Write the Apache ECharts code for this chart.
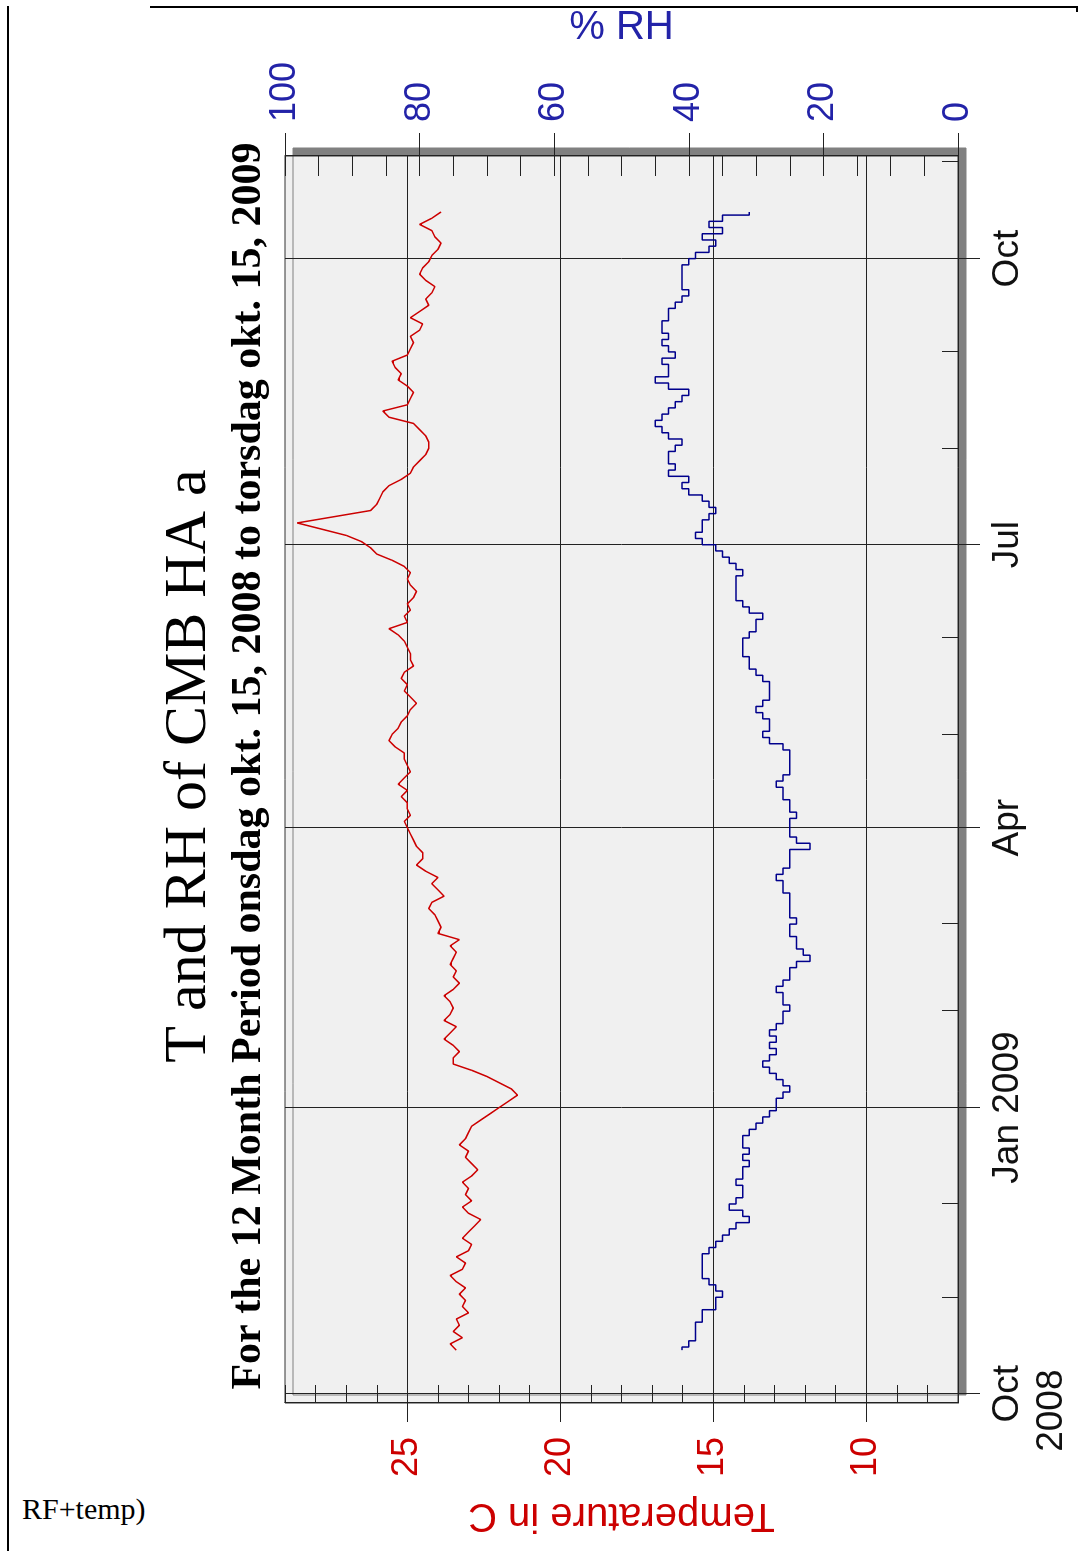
<!DOCTYPE html>
<html>
<head>
<meta charset="utf-8">
<title>T and RH of CMB HA a</title>
<script src="https://cdn.jsdelivr.net/npm/echarts@6/dist/echarts.min.js"></script>
<style>
  html, body { margin: 0; padding: 0; background: #fff; }
  body { width: 1080px; height: 1551px; position: relative; overflow: hidden; }
  /* chart is drawn landscape and turned a quarter to the left */
  #chart { position: absolute; left: 0; top: 0; width: 1551px; height: 1080px;
           transform-origin: 0 0; transform: translate(0, 1551px) rotate(-90deg); }
  .line-top { position: absolute; left: 150px; top: 6px; width: 926px; height: 2px; background: #000; }
  .line-left { position: absolute; left: 7px; top: 6px; bottom: 0; width: 2px; background: #000; }
  .line-right { position: absolute; left: 1076px; top: 6px; width: 2px; height: 6px; background: #000; }
  .note { position: absolute; left: 22px; top: 1492px; font: 30px "Liberation Serif", serif; color: #000; }
</style>
</head>
<body>
<div class="line-top"></div>
<div class="line-left"></div>
<div class="line-right"></div>
<div class="note">RF+temp)</div>
<div id="chart"></div>
<script>
// one reading every 2 days, 15 Oct 2008 .. 16 Oct 2009
const START_DATE = '2008-10-15';
const STEP_DAYS = 2;

const tempC = [
  23.4, 23.6, 23.2, 23.5, 23.3, 23.4, 23.0, 23.2, 23.1, 23.3,
  23.1, 23.4, 23.6, 23.2, 23.1, 23.4, 23.0, 22.9, 23.2, 23.0,
  22.8, 22.6, 23.0, 23.2, 22.9, 23.1, 23.0, 23.2, 22.9, 22.7,
  22.9, 23.1, 23.0, 23.3, 23.1, 23.0, 22.9, 22.6, 22.3, 22.0,
  21.7, 21.4, 21.6, 22.0, 22.4, 22.9, 23.5, 23.5, 23.3, 23.5,
  23.8, 23.6, 23.4, 23.8, 23.6, 23.5, 23.6, 23.8, 23.5, 23.3,
  23.5, 23.4, 23.6, 23.5, 23.4, 23.6, 23.3, 24.0, 23.9, 24.0,
  24.1, 24.3, 24.2, 23.8, 24.0, 24.2, 24.0, 24.4, 24.7, 24.5,
  24.5, 24.7, 24.8, 24.9, 25.0, 25.1, 24.9, 25.0, 25.0, 25.2,
  25.0, 25.3, 25.1, 24.9, 25.0, 25.1, 25.1, 25.4, 25.6, 25.5,
  25.3, 25.2, 25.0, 24.9, 24.7, 24.9, 25.1, 25.0, 25.2, 25.1,
  24.8, 24.9, 24.9, 25.0, 25.1, 25.3, 25.6, 25.0, 25.1, 24.9,
  25.0, 24.8, 24.7, 24.9, 25.0, 24.9, 25.1, 25.5, 26.0, 26.2,
  26.5, 27.0, 27.8, 28.6, 27.4, 26.2, 26.0, 25.9, 25.8, 25.6,
  25.2, 24.9, 24.8, 24.6, 24.4, 24.3, 24.3, 24.4, 24.6, 24.8,
  25.6, 25.8, 25.0, 24.9, 24.8, 25.0, 25.3, 25.2, 25.4, 25.5,
  25.0, 24.9, 24.8, 24.9, 24.6, 24.5, 24.9, 24.6, 24.3, 24.4,
  24.2, 24.1, 24.4, 24.6, 24.5, 24.3, 24.2, 24.0, 23.9, 24.1,
  24.2, 24.6, 24.2, 23.9
];

const rhPct = [
  41, 40, 39, 39, 39, 38, 38, 36, 36, 35,
  36, 37, 38, 38, 38, 38, 37, 36, 35, 34,
  33, 31, 32, 34, 33, 32, 32, 33, 32, 32,
  31, 32, 31, 32, 32, 31, 30, 29, 28, 27,
  27, 26, 25, 26, 27, 28, 29, 28, 27, 28,
  27, 28, 27, 26, 26, 25, 26, 26, 27, 26,
  25, 25, 24, 22, 23, 24, 24, 25, 25, 24,
  25, 25, 25, 25, 26, 26, 27, 26, 25, 25,
  25, 22, 24, 25, 25, 25, 24, 25, 25, 26,
  26, 27, 26, 25, 25, 25, 25, 26, 28, 29,
  28, 28, 29, 30, 29, 28, 28, 28, 29, 30,
  31, 31, 32, 32, 32, 31, 30, 30, 29, 31,
  32, 33, 33, 33, 33, 32, 33, 34, 35, 36,
  38, 39, 38, 38, 37, 36, 37, 38, 40, 41,
  40, 43, 42, 43, 43, 42, 41, 43, 44, 45,
  44, 43, 42, 41, 40, 43, 45, 43, 43, 44,
  42, 43, 44, 43, 44, 44, 43, 43, 42, 41,
  40, 41, 41, 41, 41, 40, 39, 37, 36, 38,
  35, 37, 35, 31
];

const axisStart = '2008-09-28';
const axisEnd = '2009-11-03';
const quarterTicks = ['2008-10-01', '2009-01-01', '2009-04-01', '2009-07-01', '2009-10-01'];
const quarterLabels = ['{m|Oct}\n{y|2008}', 'Jan 2009', 'Apr', 'Jul', 'Oct'];
const monthTicks = [
  '2008-10-01', '2008-11-01', '2008-12-01', '2009-01-01', '2009-02-01', '2009-03-01', '2009-04-01',
  '2009-05-01', '2009-06-01', '2009-07-01', '2009-08-01', '2009-09-01', '2009-10-01', '2009-11-01'
];
const tempTicks = [10, 15, 20, 25];

const RED = '#cc0000';
const BLUE = '#00008c';
const LABEL_BLUE = '#2323a8';
const SANS = 'Liberation Sans';
const SERIF = 'Liberation Serif';

const parse = d => +echarts.time.parse(d);
const t0 = parse(START_DATE);
const times = tempC.map((_, i) => t0 + i * STEP_DAYS * 86400000);
const quarterValues = quarterTicks.map(parse);
const monthValues = monthTicks.map(parse);

function quarterLabel(value) {
  let best = 0;
  quarterValues.forEach((q, i) => {
    if (Math.abs(q - value) < Math.abs(quarterValues[best] - value)) best = i;
  });
  return quarterLabels[best];
}

const chart = echarts.init(document.getElementById('chart'));

const option = {
  animation: false,
  title: {
    text: 'T and RH of CMB HA a',
    subtext: 'For the 12 Month Period onsdag okt. 15, 2008 to torsdag okt. 15, 2009',
    left: 785,
    textAlign: 'center',
    top: 159,
    padding: 0,
    itemGap: 9,
    textStyle: { fontFamily: SERIF, fontSize: 60, fontWeight: 'normal', color: '#000' },
    subtextStyle: { fontFamily: SERIF, fontSize: 42, fontWeight: 'bold', color: '#000' }
  },
  grid: {
    left: 148, right: 150, top: 285, bottom: 122,
    show: true,
    backgroundColor: '#f0f0f0',
    borderColor: '#333',
    borderWidth: 1,
    shadowColor: '#808080',
    shadowBlur: 0,
    shadowOffsetX: 8,
    shadowOffsetY: 8
  },
  xAxis: [
    {
      type: 'value',
      min: parse(axisStart),
      max: parse(axisEnd),
      position: 'bottom',
      axisLine: { show: true, lineStyle: { color: '#222' } },
      axisTick: { show: true, inside: false, length: 22, customValues: quarterValues, lineStyle: { color: '#222' } },
      axisLabel: {
        customValues: quarterValues,
        formatter: quarterLabel,
        margin: 28,
        fontFamily: SANS,
        fontSize: 37,
        color: '#111',
        lineHeight: 44,
        rich: {
          m: { fontFamily: SANS, fontSize: 37, color: '#111', lineHeight: 44 },
          y: { fontFamily: SANS, fontSize: 37, color: '#111', lineHeight: 44, padding: [0, 34, 0, 0] }
        }
      },
      splitLine: { show: true, lineStyle: { color: '#222', width: 1 } }
    },
    {
      type: 'value',
      min: parse(axisStart),
      max: parse(axisEnd),
      position: 'bottom',
      axisLine: { show: false },
      axisTick: { show: true, inside: true, length: 16, customValues: monthValues, lineStyle: { color: '#222' } },
      axisLabel: { show: false },
      splitLine: { show: false }
    }
  ],
  yAxis: [
    {
      type: 'value',
      position: 'left',
      min: 7,
      max: 29,
      name: 'Temperature in C',
      nameLocation: 'middle',
      nameGap: 92,
      nameTextStyle: { fontFamily: SANS, fontSize: 40, color: RED },
      axisLine: { show: true, lineStyle: { color: '#222' } },
      axisTick: { show: true, inside: false, length: 19, customValues: tempTicks, lineStyle: { color: '#222' } },
      axisLabel: { customValues: tempTicks, margin: 34, fontFamily: SANS, fontSize: 36, color: RED },
      splitLine: { show: true, lineStyle: { color: '#222', width: 1 } }
    },
    {
      type: 'value',
      position: 'left',
      min: 7,
      max: 29,
      interval: 1,
      axisLine: { show: false },
      axisTick: { show: true, inside: true, length: 18, lineStyle: { color: '#222' } },
      axisLabel: { show: false },
      splitLine: { show: false }
    },
    {
      type: 'value',
      position: 'right',
      min: 0,
      max: 100,
      interval: 20,
      name: '% RH',
      nameLocation: 'middle',
      nameRotate: -90,
      nameGap: 108,
      nameTextStyle: { fontFamily: SANS, fontSize: 40, color: LABEL_BLUE },
      axisLine: { show: true, lineStyle: { color: '#222' } },
      axisTick: { show: true, inside: false, length: 23, lineStyle: { color: '#222' } },
      axisLabel: { margin: 34, fontFamily: SANS, fontSize: 36, color: LABEL_BLUE },
      splitLine: { show: false }
    },
    {
      type: 'value',
      position: 'right',
      min: 0,
      max: 100,
      interval: 5,
      axisLine: { show: false },
      axisTick: { show: true, inside: true, length: 20, lineStyle: { color: '#222' } },
      axisLabel: { show: false },
      splitLine: { show: false }
    }
  ],
  series: [
    {
      name: 'Temperature',
      type: 'line',
      xAxisIndex: 0,
      yAxisIndex: 0,
      showSymbol: false,
      lineStyle: { color: RED, width: 1.5 },
      data: times.map((t, i) => [t, tempC[i]])
    },
    {
      name: 'RH',
      type: 'line',
      xAxisIndex: 0,
      yAxisIndex: 2,
      step: 'middle',
      showSymbol: false,
      lineStyle: { color: BLUE, width: 1.5 },
      data: times.map((t, i) => [t, rhPct[i]])
    }
  ]
};

chart.setOption(option);
</script>
</body>
</html>
